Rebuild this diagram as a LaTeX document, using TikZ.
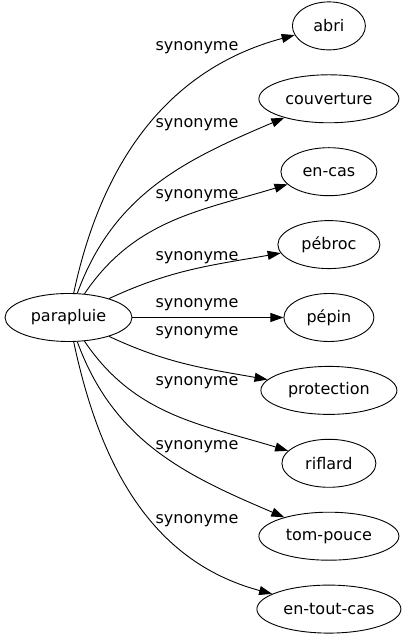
\documentclass[tikz,border=0pt]{standalone}
\usepackage{fontspec}
\setmainfont{DejaVu Sans}
\usetikzlibrary{arrows.meta,positioning,shapes.geometric}

\tikzset{
  word/.style={draw,ellipse,minimum height=48bp,inner sep=0pt},
  rel/.style={inner sep=0pt},
}

\begin{document}
\begin{tikzpicture}[x=1bp,y=1bp,node distance=24bp,line width=0.9bp,
    font=\fontsize{16bp}{19bp}\selectfont,
    >={Triangle[length=13bp,width=9bp]}]
\useasboundingbox (0,0) rectangle (404,635);
\node[word,minimum width=127bp] (parapluie) at (68.5,317.5)            {parapluie};
\node[word,minimum width=90bp]  (pepin)      [right=151bp of parapluie] {pépin};
\node[word,minimum width=102bp] (pebroc)     [above=of pepin]           {pébroc};
\node[word,minimum width=96bp]  (encas)      [above=of pebroc]          {en-cas};
\node[word,minimum width=140bp] (couverture) [above=of encas]           {couverture};
\node[word,minimum width=73bp]  (abri)       [above=of couverture]      {abri};
\node[word,minimum width=136bp] (protection) [below=of pepin]           {protection};
\node[word,minimum width=94bp]  (riflard)    [below=of protection]      {riflard};
\node[word,minimum width=140bp] (tompouce)   [below=of riflard]         {tom-pouce};
\node[word,minimum width=144bp] (entoutcas)  [below=of tompouce]        {en-tout-cas};
% labels
\node[rel] (s abri)       at (197,587) {synonyme};
\node[rel] (s couverture) at (197,510) {synonyme};
\node[rel] (s encas)      at (197,439) {synonyme};
\node[rel] (s pebroc)     at (197,377) {synonyme};
\node[rel] (s pepin)      at (197,330) {synonyme};
\node[rel] (s protection) at (197,302) {synonyme};
\node[rel] (s riflard)    at (197,252) {synonyme};
\node[rel] (s tompouce)   at (197,188) {synonyme};
\node[rel] (s entoutcas)  at (197,114) {synonyme};
\draw [->] (parapluie) to[out=78,in=195]  (abri);
\draw [->] (parapluie) to[out=70,in=203]  (couverture);
\draw [->] (parapluie) to[out=56,in=197]  (encas);
\draw [->] (parapluie) to[out=25,in=190]  (pebroc);
\draw [->] (parapluie) -- (pepin);
\draw [->] (parapluie) to[out=-25,in=170] (protection);
\draw [->] (parapluie) to[out=-56,in=163] (riflard);
\draw [->] (parapluie) to[out=-70,in=157] (tompouce);
\draw [->] (parapluie) to[out=-78,in=165] (entoutcas);
\end{tikzpicture}
\end{document}
